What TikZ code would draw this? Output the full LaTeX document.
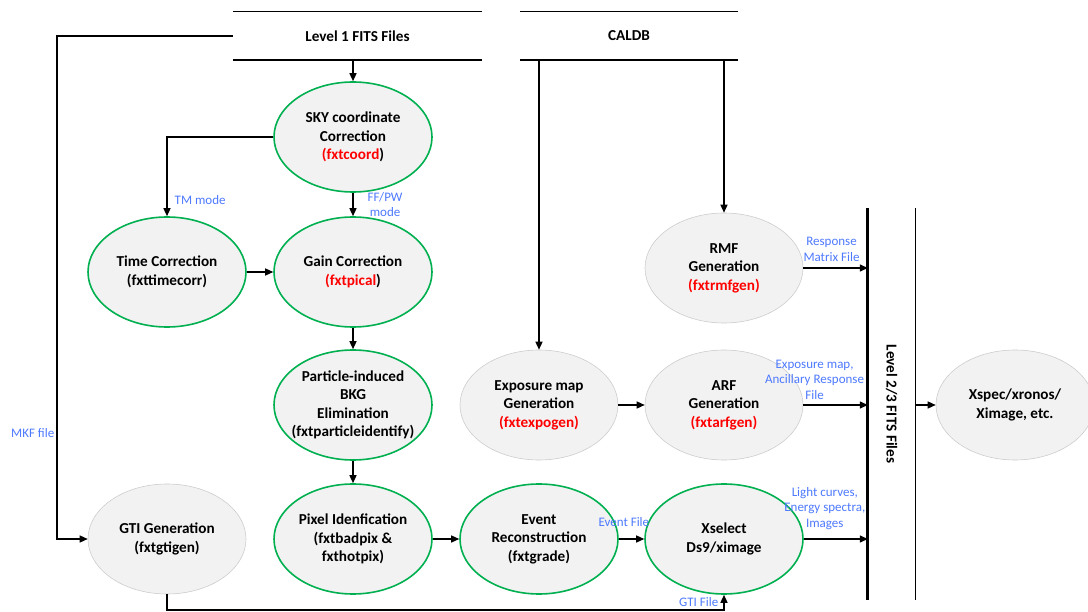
\documentclass[tikz,border=0pt]{standalone}
\usepackage{fontspec}
\setmainfont{Carlito}
\usetikzlibrary{arrows.meta,shapes.geometric}

\definecolor{procgreen}{RGB}{0,176,80}
\definecolor{procfill}{RGB}{242,242,242}
\definecolor{toolgray}{RGB}{205,205,205}
\definecolor{labelblue}{RGB}{77,121,255}
\definecolor{toolred}{RGB}{255,0,0}

\tikzset{
  proc/.style={ellipse, draw=procgreen, line width=1.6pt, fill=procfill,
    minimum width=158, minimum height=110, inner sep=0pt, align=center,
    font=\bfseries\fontsize{15.2}{18.4}\selectfont},
  tool/.style={proc, draw=toolgray, line width=0.6pt},
  store/.style={inner sep=0pt, font=\bfseries\fontsize{15.2}{18}\selectfont},
  flow/.style={line width=1.4pt, -{Triangle[length=8pt,width=7pt]}},
  lbl/.style={text=labelblue, font=\fontsize{13}{15.4}\selectfont,
    align=center, inner sep=0pt},
}

\begin{document}
\begin{tikzpicture}[x=1pt,y=-1pt]
  \useasboundingbox (0,0) rectangle (1088,612);
  % Data stores
  \node[store, minimum width=249, minimum height=48] (lvlone) at (357.5,36) {Level 1 FITS Files};
  \draw[line width=0.9pt] (lvlone.north west) -- (lvlone.north east);
  \draw[line width=2.4pt] (lvlone.south west) -- (lvlone.south east);
  \node[store, minimum width=218, minimum height=48] (caldb) at (629,36) {CALDB};
  \draw[line width=0.9pt] (caldb.north west) -- (caldb.north east);
  \draw[line width=2.4pt] (caldb.south west) -- (caldb.south east);
  \node[store, rotate=-90, minimum width=392, minimum height=47] (lvltwo) at (891.5,404) {Level 2/3 FITS Files};
  \draw[line width=1pt] (lvltwo.north west) -- (lvltwo.north east);
  \draw[line width=3pt] (lvltwo.south west) -- (lvltwo.south east);

  % Processing steps
  \node[proc] (sky) at (353,137) {SKY coordinate\\Correction\\\textcolor{toolred}{(fxtcoord})};
  \node[proc] (timecorr) at (167,272) {Time Correction\\(fxttimecorr)};
  \node[proc] (gain) at (353,272) {Gain Correction\\\textcolor{toolred}{(fxtpical})};
  \node[proc, inner xsep=-20pt] (particle) at (353,405) {Particle-induced\\BKG\\Elimination\\(fxtparticleidentify)};
  \node[proc] (pixel) at (353,539) {Pixel Idenfication\\(fxtbadpix \&\\fxthotpix)};
  \node[tool] (gti) at (167,539) {GTI Generation\\(fxtgtigen)};
  \node[proc] (event) at (539,539) {Event\\Reconstruction\\(fxtgrade)};
  \node[proc] (xsel) at (724,539) {Xselect\\Ds9/ximage};
  \node[tool] (expo) at (539,405) {Exposure map\\Generation\\\textcolor{toolred}{(fxtexpogen)}};
  \node[tool] (arf) at (724,405) {ARF\\Generation\\\textcolor{toolred}{(fxtarfgen)}};
  \node[tool] (rmf) at (724,268) {RMF\\Generation\\\textcolor{toolred}{(fxtrmfgen)}};
  \node[tool] (xspec) at (1015,405) {Xspec/xronos/\\Ximage, etc.};

  \coordinate (mkfcorner) at (57,36);
  \coordinate (gtibase) at (167,610);

  % Connectors
  \draw[flow] (sky.north |- lvlone.south) -- (sky.north);
  \draw[flow] (lvlone.west) -- (mkfcorner) |- node[lbl, left, pos=0.395, xshift=-2] {MKF file} (gti.west);
  \draw[flow] (sky.west) -| node[lbl, right, pos=0.9, xshift=7] {TM mode} (timecorr.north);
  \draw[flow] (sky.south) -- node[lbl, right, xshift=14] {FF/PW\\mode} (gain.north);
  \draw[flow] (timecorr) -- (gain);
  \draw[flow] (gain) -- (particle);
  \draw[flow] (particle) -- (pixel);
  \draw[flow] (pixel) -- (event);
  \draw[flow] (event) -- node[lbl, above, pos=0.2, yshift=12] {Event File} (xsel);
  \draw[flow] (gti.south) -- (gtibase) -| node[lbl, left, pos=0.75, xshift=-5] {GTI File} (xsel.south);
  \draw[flow] (expo.north |- caldb.south) -- (expo.north);
  \draw[flow] (rmf.north |- caldb.south) -- (rmf.north);
  \draw[flow] (expo) -- (arf);
  \draw[flow] (rmf.east) -- node[lbl, above, xshift=-4, yshift=6] {Response\\Matrix File} (rmf.east -| lvltwo.south);
  \draw[flow] (arf.east) -- node[lbl, above, xshift=-21, yshift=5] {Exposure map,\\Ancillary Response\\File} (arf.east -| lvltwo.south);
  \draw[flow] (xsel.east) -- node[lbl, above, xshift=-11, yshift=9] {Light curves,\\Energy spectra,\\Images} (xsel.east -| lvltwo.south);
  \draw[flow] (xspec.west -| lvltwo.north) -- (xspec.west);
\end{tikzpicture}
\end{document}
